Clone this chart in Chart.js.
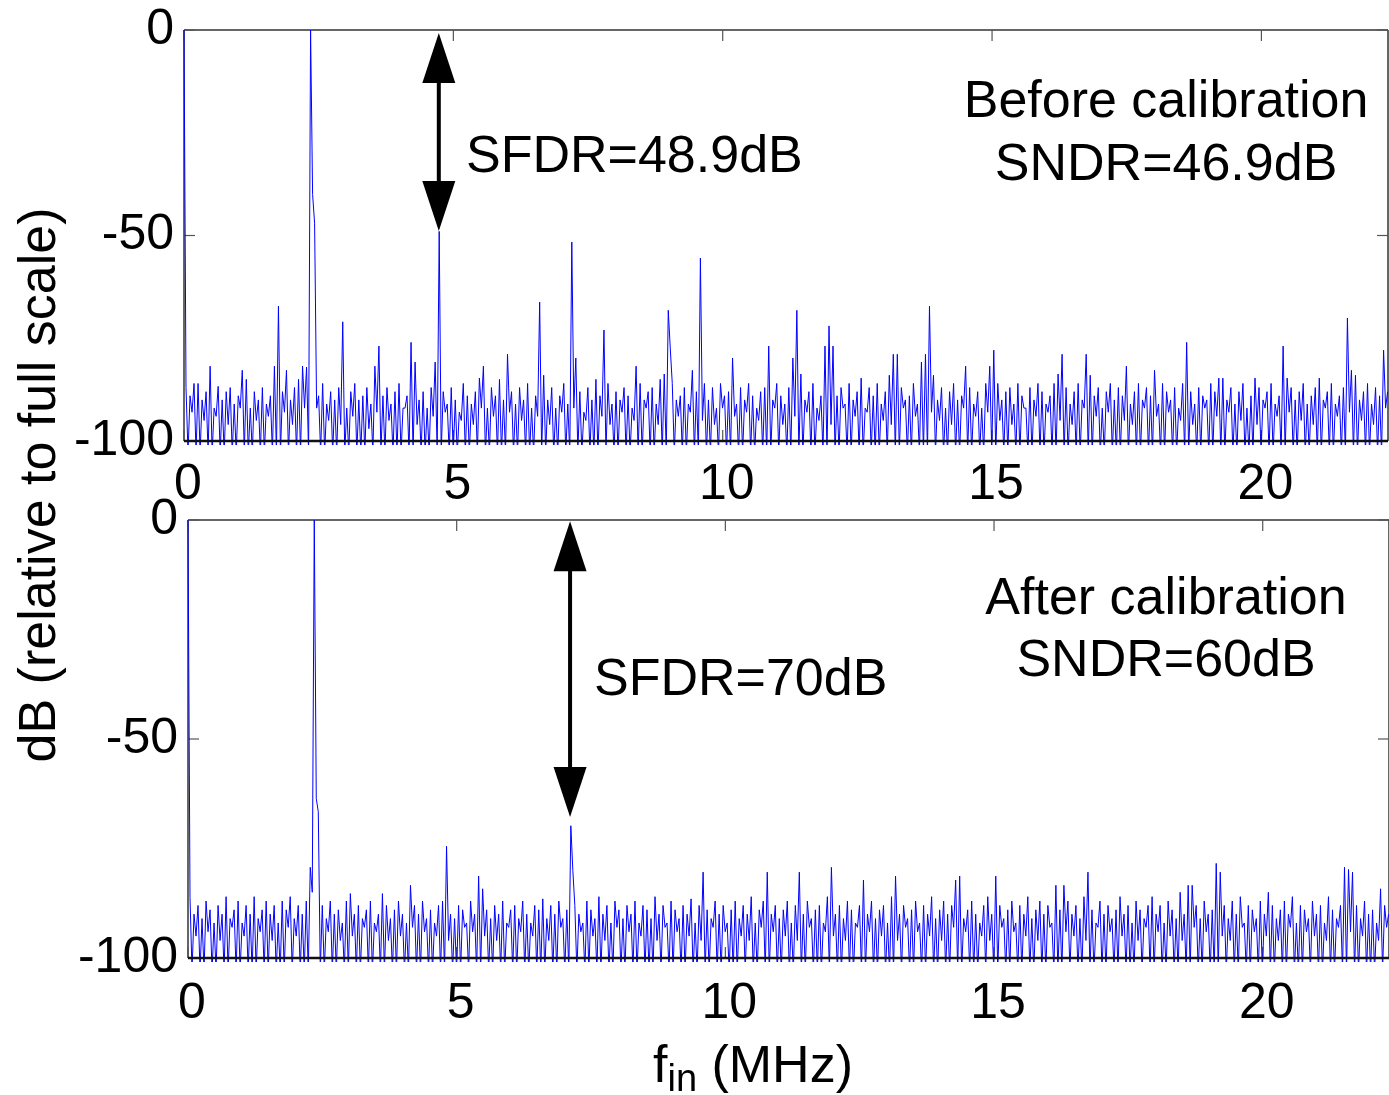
<!DOCTYPE html>
<html>
<head>
<meta charset="utf-8">
<title>FFT before / after calibration</title>
<script src="https://cdn.jsdelivr.net/npm/chart.js@4.4.1/dist/chart.umd.min.js"></script>
<style>
  html, body { margin: 0; padding: 0; background: #fff; }
  #wrap { position: relative; width: 1389px; height: 1095px; }
  canvas { position: absolute; left: 0; top: 0; }
</style>
</head>
<body>
<div id="wrap">
  <canvas id="topChart" width="1389" height="1095"></canvas>
  <canvas id="botChart" width="1389" height="1095"></canvas>
</div>
<script>
// frequency grid: every point is one bin, odd bins carry the spurs
const binMHz = 0.0373;
const xMax = 22.35;
const xTicks = [0, 5, 10, 15, 20];
const yTicks = [-100, -50, 0];

// before calibration (dBFS), peaks = odd bins, lows = even bins
const topPeaks = [
  -87,-89,-86,-86,-90,-88,-81.8,-92,-86.7,-90,
  -88,-87,-91,-89,-82.8,-85,-92,-88,-90,-87,
  -91,-89,-81.8,-67.2,-88,-82.8,-90,-87,-85,-81.8,
  -82,0,-47,-89,-86,-91,-88,-90,-87,-71,
  -92,-88,-86,-90,-89,-87,-91,-81.8,-76.9,-89,
  -87,-91,-88,-86,-92,-89,-76,-80.8,-90,-88,
  -92,-87,-80.8,-49,-88,-91,-87,-90,-93,-86,
  -89,-91,-88,-84.7,-81.8,-92,-87,-89,-85,-90,
  -78.9,-88,-91,-87,-90,-86,-92,-89,-66.2,-84,
  -90,-87,-92,-89,-86,-91,-51.6,-79.8,-88,-93,
  -87,-90,-85,-89,-73,-86,-91,-88,-90,-87,
  -89,-92,-81.8,-86,-90,-88,-87,-91,-85,-83.7,
  -68.2,-86,-90,-89,-87,-91,-82.8,-88,-55.5,-86,
  -90,-87,-92,-86,-89,-88,-79.8,-91,-87,-90,
  -86,-89,-92,-88,-87,-76.9,-90,-86,-89,-91,
  -87,-79.8,-68.2,-83.7,-90,-88,-86,-92,-89,-76.9,
  -72,-76.9,-89,-87,-91,-86,-90,-88,-84.7,-92,
  -87,-89,-86,-91,-88,-84,-78.9,-78.9,-87,-90,
  -89,-86,-91,-80.8,-78.9,-67.2,-84,-90,-87,-92,
  -88,-86,-90,-89,-81.8,-87,-91,-88,-92,-86,
  -81.8,-77.9,-86,-90,-88,-87,-91,-86,-89,-92,
  -87,-90,-86,-88,-91,-89,-86,-83.7,-78.9,-87,
  -91,-88,-86,-90,-78.9,-84,-89,-87,-92,-88,
  -86,-90,-87,-89,-81.8,-91,-88,-86,-90,-87,
  -89,-82.8,-91,-86,-88,-90,-87,-92,-86,-76,
  -88,-91,-87,-89,-90,-86,-88,-84.7,-84.7,-90,
  -87,-91,-88,-86,-92,-89,-84.7,-87,-90,-88,
  -86,-91,-89,-76.9,-84.7,-87,-90,-88,-86,-91,
  -89,-87,-84.7,-90,-88,-86,-91,-89,-87,-70.1,
  -82.8,-84,-90,-88,-86,-91,-87,-89,-77.9,-88
];
const topLows = [
  0,-103,-93,-103,-103,-95,-103,-103,-94,-103,
  -103,-96,-103,-103,-92,-103,-103,-103,-95,-103,
  -103,-94,-103,-103,-103,-93,-103,-96,-103,-103,
  -92,-103,-40,-92,-103,-103,-95,-103,-103,-96,
  -103,-103,-94,-103,-103,-103,-97,-103,-93,-103,
  -103,-95,-103,-103,-103,-92,-103,-103,-96,-103,
  -103,-103,-94,-103,-103,-93,-103,-103,-103,-95,
  -103,-103,-96,-103,-92,-103,-103,-94,-103,-103,
  -103,-93,-103,-103,-95,-103,-103,-103,-94,-103,
  -103,-96,-103,-103,-93,-103,-103,-92,-103,-103,
  -95,-103,-103,-103,-94,-103,-96,-103,-103,-93,
  -103,-103,-95,-103,-103,-92,-103,-103,-96,-103,
  -103,-77.4,-103,-94,-103,-103,-93,-103,-103,-95,
  -103,-103,-96,-103,-92,-103,-103,-94,-103,-103,
  -93,-103,-103,-95,-103,-103,-103,-92,-103,-96,
  -103,-103,-94,-103,-103,-93,-103,-103,-95,-103,
  -103,-96,-103,-103,-92,-103,-103,-94,-103,-103,
  -93,-103,-103,-103,-95,-103,-96,-103,-103,-92,
  -103,-103,-94,-103,-103,-103,-93,-103,-95,-103,
  -103,-96,-103,-103,-92,-103,-103,-94,-103,-103,
  -93,-103,-103,-95,-103,-103,-96,-103,-103,-92,
  -103,-103,-94,-103,-103,-93,-103,-103,-95,-103,
  -103,-96,-103,-103,-92,-103,-103,-94,-103,-103,
  -93,-103,-103,-103,-95,-103,-96,-103,-103,-92,
  -103,-103,-94,-103,-103,-93,-103,-103,-95,-103,
  -103,-96,-103,-103,-92,-103,-103,-94,-103,-103,
  -93,-103,-103,-95,-103,-103,-103,-96,-103,-92,
  -103,-103,-94,-103,-103,-93,-103,-103,-95,-103,
  -103,-96,-103,-103,-92,-103,-103,-94,-103,-103,
  -93,-103,-103,-95,-103,-103,-96,-103,-103,-92
];

// after calibration
const botPeaks = [
  -86.2,-90,-88,-91,-87,-89,-92,-88,-90,-86,
  -91,-89,-87,-92,-88,-90,-86,-91,-89,-87,
  -90,-88,-92,-87,-89,-86,-91,-88,-90,-87,
  -79.3,0,-66.6,-88,-91,-87,-90,-89,-92,-87,
  -85.3,-90,-88,-91,-89,-87,-92,-90,-85.3,-88,
  -91,-89,-87,-90,-92,-83.4,-88,-90,-87,-91,
  -89,-92,-88,-87,-74.5,-90,-91,-88,-89,-92,
  -87,-90,-81.3,-84.2,-89,-91,-88,-90,-87,-92,
  -89,-88,-91,-87,-90,-92,-88,-89,-86.5,-91,
  -88,-90,-87,-91,-89,-69.8,-88,-90,-92,-87,
  -89,-91,-86,-90,-88,-92,-87,-89,-91,-88,
  -90,-87,-92,-88,-89,-91,-86,-90,-88,-92,
  -87,-89,-91,-88,-90,-86.5,-92,-88,-80.4,-89,
  -91,-87,-90,-88,-92,-89,-87,-91,-88,-90,
  -86,-92,-89,-87,-80.4,-90,-88,-91,-89,-87,
  -92,-88,-80.4,-90,-87,-91,-89,-88,-92,-86,
  -79.3,-90,-88,-91,-87,-89,-92,-88,-82.2,-90,
  -87,-91,-89,-88,-92,-86,-81.3,-90,-88,-91,
  -89,-87,-92,-88,-90,-86,-91,-89,-87,-90,
  -88,-82.2,-81.3,-91,-89,-87,-90,-92,-88,-86,
  -90,-81.3,-88,-91,-89,-87,-92,-88,-90,-86,
  -91,-89,-87,-90,-88,-92,-83.4,-89,-83.4,-87,
  -90,-88,-91,-86,-80.4,-89,-92,-87,-90,-88,
  -91,-89,-86,-90,-88,-92,-87,-89,-91,-88,
  -86,-90,-88,-92,-87,-89,-91,-85,-90,-83.4,
  -83.4,-88,-91,-87,-90,-89,-78.4,-80.4,-88,-91,
  -87,-90,-86,-92,-88,-89,-91,-87,-90,-85,
  -88,-91,-89,-87,-90,-86,-92,-88,-89,-91,
  -87,-90,-88,-92,-86,-89,-91,-88,-79.3,-79.8,
  -80.4,-88,-91,-87,-90,-89,-92,-84.2,-88,-90
];
const botLows = [
  0,-103,-95,-103,-103,-94,-103,-103,-96,-103,
  -103,-93,-103,-103,-95,-103,-103,-103,-94,-103,
  -103,-96,-103,-103,-103,-93,-103,-95,-103,-103,
  -103,-85,-63.6,-103,-103,-94,-103,-103,-96,-103,
  -103,-95,-103,-103,-93,-103,-103,-94,-103,-103,
  -96,-103,-103,-95,-103,-103,-93,-103,-103,-94,
  -103,-103,-95,-103,-103,-96,-103,-103,-103,-93,
  -103,-94,-103,-103,-95,-103,-103,-96,-103,-103,
  -93,-103,-103,-94,-103,-103,-95,-103,-103,-103,
  -96,-103,-103,-93,-103,-103,-80,-103,-94,-103,
  -103,-95,-103,-103,-96,-103,-103,-93,-103,-103,
  -94,-103,-103,-95,-103,-103,-103,-96,-103,-93,
  -103,-103,-94,-103,-103,-95,-103,-103,-96,-103,
  -103,-93,-103,-103,-94,-103,-103,-103,-95,-103,
  -96,-103,-103,-93,-103,-103,-94,-103,-103,-95,
  -103,-103,-96,-103,-103,-93,-103,-103,-103,-94,
  -103,-95,-103,-103,-96,-103,-103,-93,-103,-103,
  -94,-103,-103,-95,-103,-103,-103,-96,-103,-93,
  -103,-103,-94,-103,-103,-95,-103,-103,-96,-103,
  -103,-93,-103,-103,-94,-103,-103,-103,-95,-103,
  -96,-103,-103,-93,-103,-103,-94,-103,-103,-95,
  -103,-103,-96,-103,-103,-93,-103,-103,-103,-94,
  -103,-95,-103,-103,-96,-103,-103,-93,-103,-103,
  -94,-103,-103,-95,-103,-103,-103,-96,-103,-93,
  -103,-103,-94,-103,-103,-95,-103,-103,-96,-103,
  -103,-93,-103,-103,-94,-103,-103,-103,-95,-103,
  -96,-103,-103,-93,-103,-103,-94,-103,-103,-95,
  -103,-103,-96,-103,-103,-93,-103,-103,-103,-94,
  -103,-95,-103,-103,-96,-103,-103,-93,-103,-103,
  -94,-103,-103,-95,-103,-103,-103,-96,-103,-93
];

[topPeaks, topLows, botPeaks, botLows].forEach((a, i) => {
  if (a.length !== 300) throw new Error('array ' + i + ' has ' + a.length);
});

const FONT = "'Liberation Sans', Arial, sans-serif";

function spectrum(lows, peaks){
  const pts = [];
  for (let i = 0; i < lows.length; i++){
    pts.push({x: 2*i*binMHz, y: lows[i]});
    pts.push({x: (2*i+1)*binMHz, y: peaks[i]});
  }
  return pts;
}

function seg(ctx, x1, y1, x2, y2){
  ctx.beginPath(); ctx.moveTo(x1, y1); ctx.lineTo(x2, y2); ctx.stroke();
}

// matlab style box with inward ticks
const frame = {
  id: 'frame',
  beforeDatasetsDraw(chart){
    const {ctx, chartArea: a, scales: {x, y}} = chart;
    ctx.save();
    ctx.strokeStyle = '#333'; ctx.lineWidth = 1.5;
    seg(ctx, a.left, a.top, a.right, a.top);
    seg(ctx, a.right, a.top, a.right, a.bottom);
    seg(ctx, a.left, a.top, a.left, a.bottom);
    ctx.strokeStyle = '#555'; ctx.lineWidth = 1.2;
    xTicks.forEach(v => {
      const px = x.getPixelForValue(v);
      seg(ctx, px, a.top, px, a.top + 11);
      seg(ctx, px, a.bottom, px, a.bottom - 11);
    });
    yTicks.forEach(v => {
      const py = y.getPixelForValue(v);
      seg(ctx, a.left, py, a.left + 11, py);
      seg(ctx, a.right, py, a.right - 11, py);
    });
    ctx.restore();
  },
  afterDatasetsDraw(chart){
    const {ctx, chartArea: a} = chart;
    ctx.save();
    ctx.strokeStyle = '#111'; ctx.lineWidth = 2.5;
    seg(ctx, a.left, a.bottom, a.right, a.bottom);
    ctx.restore();
  }
};

function notes(cfg){
  return {
    id: 'notes',
    afterDraw(chart){
      const {ctx, scales: {x, y}} = chart;
      ctx.save();
      // double arrow for SFDR
      const ax = x.getPixelForValue(cfg.arrow.x);
      const y1 = y.getPixelForValue(cfg.arrow.y1);
      const y2 = y.getPixelForValue(cfg.arrow.y2);
      const hl = 50, hw = 16.5;
      ctx.strokeStyle = '#000'; ctx.fillStyle = '#000'; ctx.lineWidth = 4;
      seg(ctx, ax, y1 + hl - 2, ax, y2 - hl + 2);
      ctx.beginPath(); ctx.moveTo(ax, y1); ctx.lineTo(ax - hw, y1 + hl); ctx.lineTo(ax + hw, y1 + hl); ctx.closePath(); ctx.fill();
      ctx.beginPath(); ctx.moveTo(ax, y2); ctx.lineTo(ax - hw, y2 - hl); ctx.lineTo(ax + hw, y2 - hl); ctx.closePath(); ctx.fill();
      ctx.font = '52px ' + FONT;
      ctx.textBaseline = 'alphabetic';
      cfg.texts.forEach(t => {
        ctx.textAlign = t.align;
        ctx.fillText(t.text, x.getPixelForValue(t.x), y.getPixelForValue(t.y));
      });
      if (cfg.titles){
        // y title spans both panels
        ctx.save();
        ctx.translate(55, 485);
        ctx.rotate(-Math.PI/2);
        ctx.textAlign = 'center';
        ctx.fillText('dB (relative to full scale)', 0, 0);
        ctx.restore();
        // x title with subscript
        const big = '52px ' + FONT, small = '38px ' + FONT;
        ctx.font = big; const wf = ctx.measureText('f').width; const wr = ctx.measureText(' (MHz)').width;
        ctx.font = small; const ws = ctx.measureText('in').width;
        let sx = 753 - (wf + ws + wr)/2;
        ctx.textAlign = 'left';
        ctx.font = big; ctx.fillText('f', sx, 1082); sx += wf;
        ctx.font = small; ctx.fillText('in', sx, 1091); sx += ws;
        ctx.font = big; ctx.fillText(' (MHz)', sx, 1082);
      }
      ctx.restore();
    }
  };
}

function makeChart(id, cfg){
  return new Chart(document.getElementById(id), {
    type: 'line',
    data: {datasets: [{
      data: spectrum(cfg.lows, cfg.peaks),
      borderColor: '#0000ff', borderWidth: 1, pointRadius: 0, tension: 0,
      clip: {left: 2, top: 0, right: 0, bottom: 4}
    }]},
    options: {
      responsive: false, animation: false, events: [],
      layout: {padding: {top: cfg.top, bottom: cfg.padBottom, left: 0, right: cfg.right}},
      plugins: {legend: {display: false}, tooltip: {enabled: false}},
      scales: {
        x: {
          type: 'linear', min: 0, max: xMax,
          grid: {display: false, drawTicks: false}, border: {display: false},
          ticks: {font: {family: FONT, size: 50, lineHeight: 1}, color: '#000', padding: cfg.xPad,
                  labelOffset: 4, maxRotation: 0, autoSkip: false, callback: v => String(v)},
          afterBuildTicks: s => { s.ticks = xTicks.map(v => ({value: v})); },
          afterFit: s => { s.height = 70; s.paddingLeft = 0; s.paddingRight = 0; }
        },
        y: {
          min: -100, max: 0,
          grid: {display: false, drawTicks: false}, border: {display: false},
          ticks: {font: {family: FONT, size: 50, lineHeight: 1}, color: '#000', padding: 10,
                  callback: v => String(v)},
          afterBuildTicks: s => { s.ticks = yTicks.map(v => ({value: v})); },
          afterFit: s => { s.width = cfg.left; s.paddingTop = 0; s.paddingBottom = 0; }
        }
      }
    },
    plugins: [frame, notes(cfg)]
  });
}

makeChart('topChart', {
  peaks: topPeaks, lows: topLows,
  left: 184, top: 30, right: 1, padBottom: 1095 - 441 - 70, xPad: 19,
  arrow: {x: 4.73, y1: -0.7, y2: -48.9},
  texts: [
    {text: 'SFDR=48.9dB', x: 5.235, y: -34.5, align: 'left'},
    {text: 'Before calibration', x: 18.23, y: -21.2, align: 'center'},
    {text: 'SNDR=46.9dB', x: 18.23, y: -36.5, align: 'center'}
  ]
});

makeChart('botChart', {
  peaks: botPeaks, lows: botLows,
  left: 188, top: 520, right: 0, padBottom: 1095 - 958 - 70, xPad: 21,
  arrow: {x: 7.11, y1: -0.3, y2: -67.8},
  texts: [
    {text: 'SFDR=70dB', x: 7.555, y: -40.0, align: 'left'},
    {text: 'After calibration', x: 18.2, y: -21.5, align: 'center'},
    {text: 'SNDR=60dB', x: 18.2, y: -35.6, align: 'center'}
  ],
  titles: true
});
</script>
</body>
</html>
